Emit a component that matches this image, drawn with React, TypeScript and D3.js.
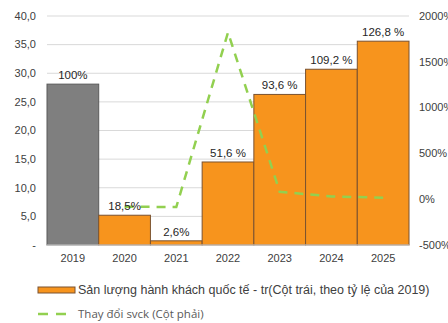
import React from "react";
import * as d3 from "d3";

const years = ["2019", "2020", "2021", "2022", "2023", "2024", "2025"];
// Passenger volume (million), left axis
const passengers = [28.1, 5.2, 0.73, 14.5, 26.3, 30.7, 35.6];
// Share of 2019 volume, shown above bars
const pctLabels = ["100%", "18,5%", "2,6%", "51,6 %", "93,6 %", "109,2 %", "126,8 %"];
// Year-over-year change (%), right axis; starts in 2020
const yoyYears = ["2020", "2021", "2022", "2023", "2024", "2025"];
const yoyChange = [-81.5, -85.9, 1820, 81.4, 30, 16.1];
const leftTicks = [0, 5, 10, 15, 20, 25, 30, 35, 40];
const rightTicks = [-500, 0, 500, 1000, 1500, 2000];

const W = 448;
const H = 323;
const plot = { left: 47, right: 409, top: 16, bottom: 245 };
const FONT = "'Liberation Sans', Arial, sans-serif";

export default function App() {
  const x = d3.scaleBand<string>().domain(years).range([plot.left, plot.right]).padding(0);
  const yL = d3.scaleLinear().domain([0, 40]).range([plot.bottom, plot.top]);
  const yR = d3.scaleLinear().domain([-500, 2000]).range([plot.bottom, plot.top]);
  const fmtL = (v: number) => (v === 0 ? "-" : d3.format(".1f")(v).replace(".", ","));
  const line = d3
    .line<number>()
    .x((_, i) => (x(yoyYears[i]) as number) + x.bandwidth() / 2)
    .y((d) => yR(d));

  return (
    <svg width={W} height={H} style={{ position: "absolute", left: 0, top: 0, background: "#fff" }}>
      {leftTicks.map((t) => (
        <g key={"l" + t}>
          {t !== 0 && (
            <line x1={plot.left} x2={plot.right} y1={yL(t)} y2={yL(t)} stroke="#d9d9d9" strokeWidth={1} />
          )}
          <text x={36} y={yL(t)} dy="0.35em" textAnchor="end" fontSize={11} fill="#404040" fontFamily={FONT}>
            {fmtL(t)}
          </text>
        </g>
      ))}
      {rightTicks.map((t) => (
        <text key={"r" + t} x={419} y={yR(t)} dy="0.35em" textAnchor="start" fontSize={11} fill="#404040" fontFamily={FONT}>
          {t + "%"}
        </text>
      ))}
      {passengers.map((v, i) => (
        <rect
          key={"b" + i}
          x={x(years[i]) as number}
          y={yL(v)}
          width={x.bandwidth()}
          height={yL(0) - yL(v)}
          fill={i === 0 ? "#7f7f7f" : "#f7941d"}
          stroke={i === 0 ? "#5a5a5a" : "#7a5230"}
          strokeWidth={1}
        />
      ))}
      <line x1={plot.left} x2={plot.right} y1={plot.bottom} y2={plot.bottom} stroke="#d9d9d9" strokeWidth={1} />
      <path
        d={line(yoyChange) || ""}
        fill="none"
        stroke="#92d050"
        strokeWidth={2.5}
        strokeDasharray="9,7"
      />
      {passengers.map((v, i) => (
        <text
          key={"t" + i}
          x={(x(years[i]) as number) + x.bandwidth() / 2}
          y={yL(v) - 5}
          textAnchor="middle"
          fontSize={11.5}
          fill="#262626"
          fontFamily={FONT}
        >
          {pctLabels[i]}
        </text>
      ))}
      {years.map((yr) => (
        <text
          key={"x" + yr}
          x={(x(yr) as number) + x.bandwidth() / 2}
          y={262}
          textAnchor="middle"
          fontSize={11}
          fill="#404040"
          fontFamily={FONT}
        >
          {yr}
        </text>
      ))}
      <rect x={38} y={287} width={37} height={6} fill="#f7941d" stroke="#7a5230" strokeWidth={1} />
      <text x={78} y={294} fontSize={12.5} fill="#404040" fontFamily={FONT}>
        Sản lượng hành khách quốc tế - tr(Cột trái, theo tỷ lệ của 2019)
      </text>
      <line x1={38} x2={68} y1={314} y2={314} stroke="#92d050" strokeWidth={2.5} strokeDasharray="10,8" />
      <text x={78} y={318} fontSize={11.5} fill="#595959" fontFamily="'Open Sans', sans-serif">
        Thay đổi svck (Cột phải)
      </text>
    </svg>
  );
}
